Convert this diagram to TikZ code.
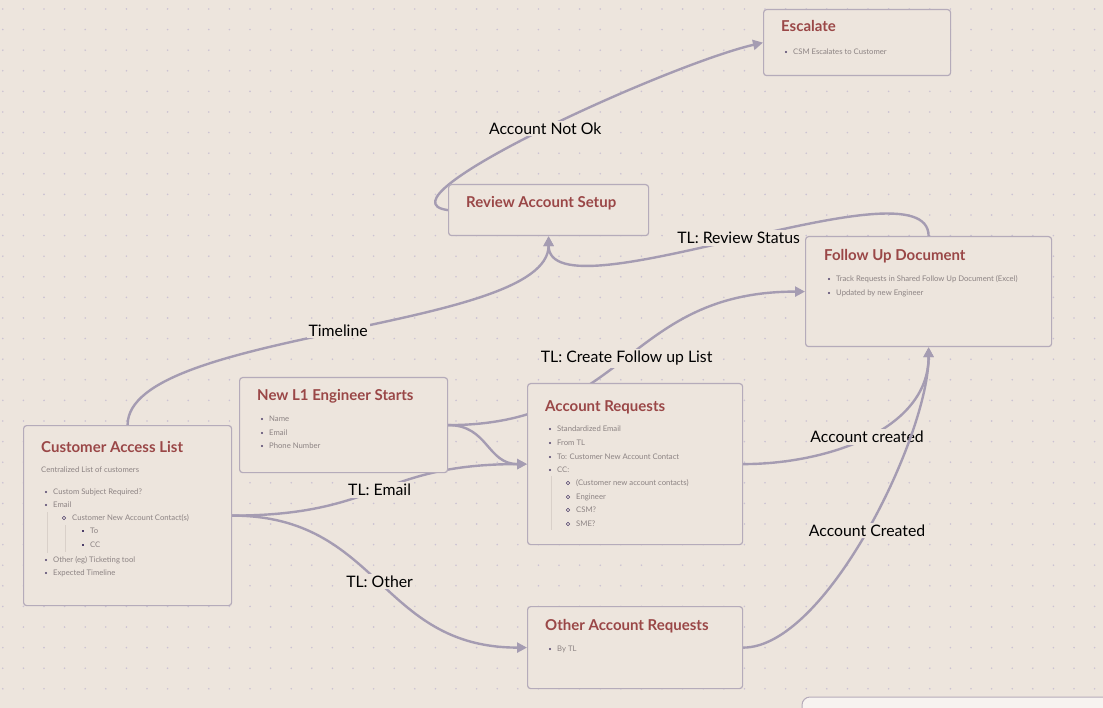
\documentclass[tikz,border=0pt]{standalone}
\usepackage{fontspec}
\setmainfont{Lato}
\usetikzlibrary{arrows.meta}

\definecolor{bgcol}{HTML}{EDE5DD}
\definecolor{boxline}{HTML}{B5ABBA}
\definecolor{ttlcol}{HTML}{9A4747}
\definecolor{txtcol}{HTML}{8C8383}
\definecolor{bulcol}{HTML}{4E3F6A}
\definecolor{conncol}{HTML}{A59CB2}
\definecolor{dotcol}{HTML}{CBC2D3}
\definecolor{guidecol}{HTML}{D9D0C9}

\pgfdeclarelayer{grid}
\pgfdeclarelayer{lines}
\pgfsetlayers{grid,lines,main}

\tikzset{
  card/.style={draw=boxline, line width=1.2pt, fill=bgcol, rounded corners=3pt,
    anchor=north west, inner sep=0pt},
  ttl/.style={anchor=base west, inner sep=0pt, text=ttlcol,
    font=\fontsize{15}{17}\selectfont\bfseries},
  txt/.style={anchor=base west, inner sep=0pt, text=txtcol,
    font=\fontsize{7.7}{9}\selectfont},
  lbl/.style={fill=bgcol, inner sep=2pt, text=black,
    font=\fontsize{15.8}{18}\selectfont},
  conn/.style={draw=conncol, line width=2.4pt, -{Triangle[length=10pt,width=10pt]}},
  guide/.style={draw=guidecol, line width=0.8pt},
  hollow/.style={draw=bulcol, line width=0.6pt, fill=bgcol},
}

\begin{document}
\begin{tikzpicture}[x=1pt,y=-1pt]
    \useasboundingbox (0,0) rectangle (1103,708);
    \clip (0,0) rectangle (1103,708);

    % dotted grid
    \begin{pgfonlayer}{grid}
    \fill[bgcol] (0,0) rectangle (1103,708);
    \foreach \i in {0,...,53}
      \foreach \j in {0,...,34}
        \fill[dotcol] (2.8+20.6*\i,9+20.6*\j) circle [radius=0.9pt];
    \end{pgfonlayer}

    % cards
    \node[card, minimum width=208pt, minimum height=180pt] (cal) at (23,425) {};
    \node[card, minimum width=208pt, minimum height=95pt] (nl1) at (239,377) {};
    \node[card, minimum width=215pt, minimum height=161pt] (ar) at (527,383) {};
    \node[card, minimum width=246pt, minimum height=110pt] (fud) at (805,236) {};
    \node[card, minimum width=187pt, minimum height=66pt] (esc) at (763,9) {};
    \node[card, minimum width=200pt, minimum height=51pt] (ras) at (448,184) {};
    \node[card, minimum width=215pt, minimum height=82pt] (oar) at (527,606) {};
    \draw[draw=boxline, fill=white!55!bgcol, rounded corners=8pt, line width=1pt]
      (802,697) rectangle (1130,740);

    % Customer Access List
    \node[ttl] (cal-title) at (41,452) {Customer Access List};
    \node[txt] (cal-sub) at (41,472.5) {Centralized List of customers};
    \draw[guide] (47,512) -- (47,553);
    \draw[guide] (65,525) -- (65,552);
    \foreach \y/\t [count=\k] in {492/Custom Subject Required?, 505/Email,
        560/Other (eg) Ticketing tool, 573/Expected Timeline} {
      \fill[bulcol] (46,\y) circle [radius=1.2pt];
      \node[txt] (cal-i\k) at (53,\y+2.5) {\t};
    }
    \draw[hollow] (64,518) circle [radius=1.7pt];
    \node[txt] (cal-contact) at (72,520.5) {Customer New Account Contact(s)};
    \foreach \y/\t [count=\k] in {531/To, 545/CC} {
      \fill[bulcol] (81.8,\y-1.2) rectangle (84.2,\y+1.2);
      \node[txt] (cal-s\k) at (90,\y+2.5) {\t};
    }

    % New L1 Engineer Starts
    \node[ttl] (nl1-title) at (257,401) {New L1 Engineer Starts};
    \foreach \y/\t [count=\k] in {419/Name, 433/Email, 446/Phone Number} {
      \fill[bulcol] (262,\y) circle [radius=1.2pt];
      \node[txt] (nl1-i\k) at (269,\y+2.5) {\t};
    }

    % Account Requests
    \node[ttl] (ar-title) at (545,411) {Account Requests};
    \draw[guide] (551,476) -- (551,530);
    \foreach \y/\t [count=\k] in {429/Standardized Email, 443/From TL,
        457/To: Customer New Account Contact, 470/CC:} {
      \fill[bulcol] (550,\y) circle [radius=1.2pt];
      \node[txt] (ar-i\k) at (557,\y+2.5) {\t};
    }
    \foreach \y/\t [count=\k] in {483/(Customer new account contacts), 497/Engineer,
        510/CSM?, 524/SME?} {
      \draw[hollow] (568,\y) circle [radius=1.7pt];
      \node[txt] (ar-s\k) at (576,\y+2.5) {\t};
    }

    % Follow Up Document
    \node[ttl] (fud-title) at (824,261) {Follow Up Document};
    \foreach \y/\t [count=\k] in {279/Track Requests in Shared Follow Up Document (Excel),
        293/Updated by new Engineer} {
      \fill[bulcol] (829,\y) circle [radius=1.2pt];
      \node[txt] (fud-i\k) at (836,\y+2.5) {\t};
    }

    % Escalate
    \node[ttl] (esc-title) at (781,32) {Escalate};
    \fill[bulcol] (786,52) circle [radius=1.2pt];
    \node[txt] (esc-i1) at (793,54.5) {CSM Escalates to Customer};

    % Review Account Setup
    \node[ttl] (ras-title) at (466,208) {Review Account Setup};

    % Other Account Requests
    \node[ttl] (oar-title) at (545,630) {Other Account Requests};
    \fill[bulcol] (550,649) circle [radius=1.2pt];
    \node[txt] (oar-i1) at (557,651.5) {By TL};

    % connectors, behind the cards
    \begin{pgfonlayer}{lines}
    \draw[conn] (cal.north) .. controls +(0,-95) and +(0,95) .. (ras.south)
      node[lbl, pos=0.5] (l-timeline) {Timeline};
    \draw[conn] (ras.west) .. controls +(-78,-10) and +(-95,22) .. (esc.west)
      node[lbl, pos=0.51] (l-notok) {Account Not Ok};
    \draw[conn] (fud.north) .. controls +(0,-80) and +(0,85) .. (ras.south)
      node[lbl, pos=0.5] (l-review) {TL: Review Status};
    \draw[conn] (nl1.east) .. controls +(179,0) and +(-179,0) .. (fud.west)
      node[lbl, pos=0.5] (l-follow) {TL: Create Follow up List};
    \draw[conn] (nl1.east) .. controls +(40,0) and +(-40,0) .. (ar.west);
    \draw[conn] (cal.east) .. controls +(148,0) and +(-148,0) .. (ar.west)
      node[lbl, pos=0.5] (l-email) {TL: Email};
    \draw[conn] (cal.east) .. controls +(148,0) and +(-148,0) .. (oar.west)
      node[lbl, pos=0.5] (l-other) {TL: Other};
    \draw[conn] (ar.east) .. controls +(83,0) and +(0,83) .. (fud.south)
      node[lbl, pos=0.5] (l-created) {Account created};
    \draw[conn] (oar.east) .. controls +(83,0) and +(0,88) .. (fud.south)
      node[lbl, pos=0.5] (l-created2) {Account Created};
    \end{pgfonlayer}
\end{tikzpicture}
\end{document}
